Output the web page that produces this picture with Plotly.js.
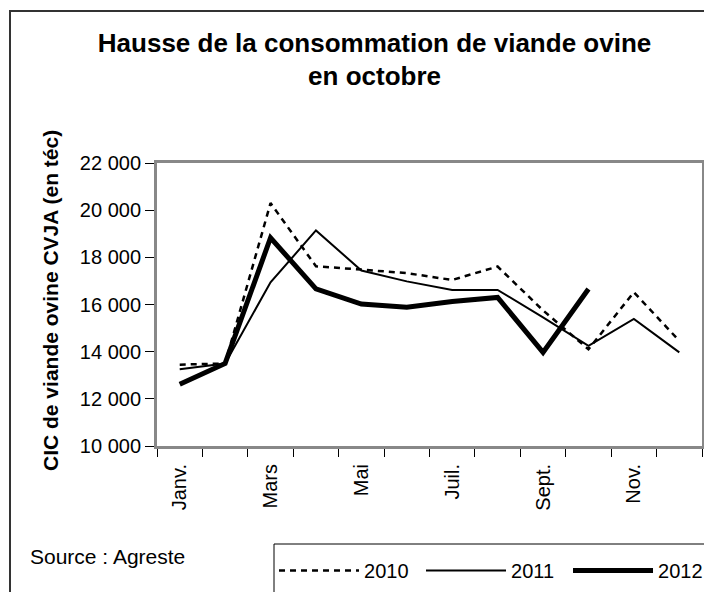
<!DOCTYPE html>
<html>
<head>
<meta charset="utf-8">
<script src="https://cdn.plot.ly/plotly-3.0.1.min.js"></script>
<style>
  body { margin: 0; overflow: hidden; background: #fff; }
  #chart { width: 704px; height: 592px; }
  #frame { position: absolute; left: 9px; top: 10px; width: 760px; height: 640px;
           border: 2px solid #333; pointer-events: none; }
</style>
</head>
<body>
<div id="chart"></div>
<div id="frame"></div>
<script>
// Months and the three yearly series (CIC, tonnes équivalent carcasse)
const months = ['Janv.', 'Févr.', 'Mars', 'Avr.', 'Mai', 'Juin', 'Juil.', 'Août', 'Sept.', 'Oct.', 'Nov.', 'Déc.'];
const monthLabels = ['Janv.', '', 'Mars', '', 'Mai', '', 'Juil.', '', 'Sept.', '', 'Nov.', ''];
const values2010 = [13450, 13500, 20300, 17620, 17480, 17330, 17040, 17610, 15750, 14100, 16520, 14460];
const values2011 = [13250, 13500, 16940, 19140, 17440, 16980, 16620, 16620, 15450, 14250, 15390, 13970];
const values2012 = [12620, 13500, 18830, 16660, 16020, 15880, 16130, 16300, 13970, 16660];

const font = 'Liberation Sans, Arial, sans-serif';

const traces = [
    {
        x: months, y: values2010, name: '2010', type: 'scatter', mode: 'lines',
        line: { color: '#000', width: 2.5, dash: '6px,5px' }
    },
    {
        x: months, y: values2011, name: '2011', type: 'scatter', mode: 'lines',
        line: { color: '#000', width: 2 }
    },
    {
        x: months.slice(0, values2012.length), y: values2012, name: '2012', type: 'scatter', mode: 'lines',
        line: { color: '#000', width: 5 }
    }
];

const layout = {
    width: 704,
    height: 592,
    margin: { l: 157, r: 2, t: 163, b: 146, autoexpand: false },
    paper_bgcolor: '#fff',
    plot_bgcolor: '#fff',
    separators: ', ',
    font: { family: font, color: '#000', size: 20 },
    showlegend: true,
    title: {
        text: '<b>Hausse de la consommation de viande ovine<br>en octobre</b>',
        font: { family: font, size: 26, color: '#000' },
        xref: 'container', x: 0.532, xanchor: 'center',
        yref: 'container', y: 0.913, yanchor: 'top'
    },
    xaxis: {
        type: 'category',
        categoryorder: 'array',
        categoryarray: months,
        range: [-0.5, 11.5],
        tickmode: 'array',
        tickvals: months,
        ticktext: monthLabels,
        tickangle: -90,
        tickson: 'boundaries',
        ticks: 'outside', ticklen: 8, tickcolor: '#000', tickwidth: 1,
        ticklabelstandoff: 7,
        showgrid: false, zeroline: false,
        showline: true, mirror: true, linecolor: '#888', linewidth: 3,
        tickfont: { family: font, size: 20, color: '#000' }
    },
    yaxis: {
        range: [10000, 22000],
        dtick: 2000,
        tickformat: ',d',
        ticks: 'outside', ticklen: 9, tickcolor: '#000', tickwidth: 1,
        showgrid: false, zeroline: false,
        showline: true, mirror: true, linecolor: '#888', linewidth: 3,
        tickfont: { family: font, size: 20, color: '#000' }
    },
    legend: {
        orientation: 'h',
        x: 0.2147, xanchor: 'left',
        y: -0.371, yanchor: 'top',
        borderwidth: 0,
        bgcolor: 'rgba(0,0,0,0)',
        font: { family: font, size: 20, color: '#000' },
        itemwidth: 80,
        entrywidth: 52
    },
    shapes: [
        // legend box, cut by the picture edge like in the original
        {
            type: 'rect', xref: 'paper', yref: 'paper',
            x0: 0.2147, x1: 1.3, y0: -0.3463, y1: -0.7,
            line: { color: '#000', width: 1 }, fillcolor: 'rgba(0,0,0,0)'
        }
    ],
    annotations: [
        {
            text: '<b>CIC de viande ovine CVJA (en téc)</b>',
            xref: 'paper', yref: 'paper',
            x: -0.1945, y: 0.516,
            xanchor: 'center', yanchor: 'middle',
            textangle: -90, showarrow: false,
            font: { family: font, size: 21, color: '#000' }
        },
        {
            text: 'Source : Agreste',
            xref: 'paper', yref: 'paper',
            x: -0.2367, y: -0.392,
            xanchor: 'left', yanchor: 'middle',
            showarrow: false,
            font: { family: font, size: 21, color: '#000' }
        }
    ]
};

Plotly.newPlot('chart', traces, layout, { displayModeBar: false, staticPlot: true });
</script>
</body>
</html>
